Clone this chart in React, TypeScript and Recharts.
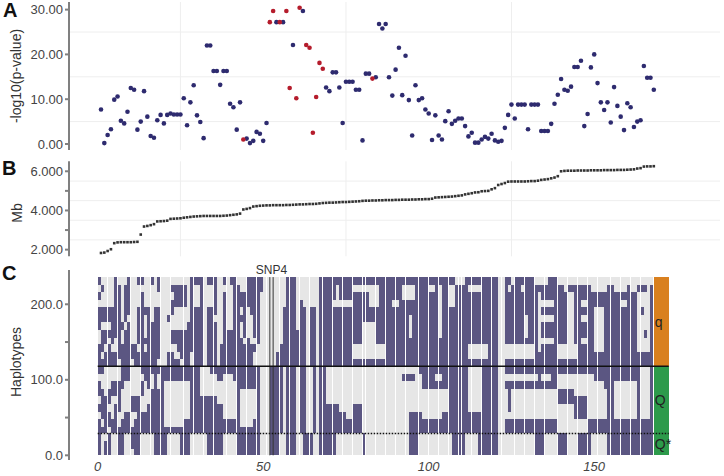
import React from 'react';
import {
  ScatterChart, Scatter, BarChart, Bar, Cell, XAxis, YAxis,
  ReferenceLine, ReferenceArea, Label,
} from 'recharts';

// -log10(p-value) per SNP, SNP index 1..168
const logP = [
  7.7, 0.2, 2.0, 3.3, 9.9, 10.6, 5.2, 4.6, 7.2, 12.5,
  12.1, 3.2, 5.0, 11.8, 6.1, 1.8, 1.4, 5.3, 6.5, 4.6,
  6.5, 6.8, 6.6, 6.6, 6.6, 10.2, 4.2, 9.3, 13.1, 6.4,
  4.9, 1.3, 22.0, 22.0, 16.3, 16.3, 13.2, 16.3, 16.3, 9.0,
  8.2, 3.2, 9.3, 1.0, 1.2, 0.2, 0.7, 2.7, 2.3, 0.7,
  4.7, 27.2, 29.7, 27.2, 27.2, 27.2, 29.7, 12.5, 22.1, 10.2,
  30.4, 29.7, 22.1, 21.5, 2.5, 10.5, 18.1, 16.8, 12.6, 11.8,
  16.0, 16.0, 12.6, 4.7, 13.9, 13.9, 13.9, 12.1, 12.1, 0.8,
  15.7, 15.7, 14.6, 14.9, 26.8, 25.8, 26.8, 14.9, 10.8, 16.6,
  21.5, 10.9, 19.7, 9.8, 1.9, 13.1, 9.8, 10.2, 7.7, 6.8,
  0.9, 6.4, 1.9, 1.0, 5.1, 7.3, 4.5, 5.2, 5.7, 5.7,
  4.0, 1.7, 2.5, 0.3, 0.3, 1.0, 1.6, 1.2, 2.3, 0.8,
  0.5, 0.7, 3.6, 6.5, 8.8, 5.7, 8.8, 8.8, 8.8, 3.3,
  8.8, 8.8, 8.8, 2.9, 2.9, 2.9, 4.5, 9.0, 11.0, 14.5,
  12.1, 11.9, 12.8, 17.2, 17.2, 18.6, 4.0, 6.7, 17.1, 20.0,
  13.6, 9.3, 7.6, 9.3, 4.8, 12.7, 8.5, 6.1, 3.1, 9.1,
  8.2, 3.8, 5.0, 5.3, 17.4, 14.8, 14.8, 12.1,
];

// SNPs drawn in red
const redSnps = [44, 52, 53, 55, 57, 58, 60, 61, 63, 64, 65, 66, 67, 68, 83];

// position of each SNP (Mb)
const mb = [
  1.83, 1.85, 1.93, 2.02, 2.33, 2.37, 2.38, 2.38, 2.38, 2.38,
  2.39, 2.40, 2.77, 3.18, 3.21, 3.25, 3.30, 3.44, 3.45, 3.46,
  3.48, 3.57, 3.58, 3.59, 3.60, 3.63, 3.65, 3.67, 3.69, 3.70,
  3.71, 3.72, 3.72, 3.72, 3.72, 3.72, 3.72, 3.73, 3.74, 3.76,
  3.78, 3.80, 3.84, 4.05, 4.08, 4.12, 4.20, 4.22, 4.24, 4.25,
  4.26, 4.26, 4.27, 4.27, 4.27, 4.27, 4.28, 4.28, 4.29, 4.30,
  4.31, 4.31, 4.32, 4.33, 4.33, 4.34, 4.36, 4.38, 4.39, 4.40,
  4.40, 4.41, 4.42, 4.43, 4.43, 4.44, 4.45, 4.46, 4.47, 4.49,
  4.50, 4.50, 4.51, 4.51, 4.52, 4.52, 4.53, 4.53, 4.53, 4.54,
  4.54, 4.55, 4.55, 4.55, 4.56, 4.56, 4.57, 4.57, 4.58, 4.58,
  4.60, 4.66, 4.67, 4.68, 4.69, 4.70, 4.71, 4.73, 4.75, 4.77,
  4.82, 4.85, 4.88, 4.92, 4.93, 4.98, 4.99, 5.00, 5.08, 5.14,
  5.30, 5.35, 5.40, 5.47, 5.48, 5.48, 5.48, 5.48, 5.48, 5.49,
  5.50, 5.50, 5.52, 5.56, 5.58, 5.60, 5.64, 5.68, 5.75, 6.00,
  6.02, 6.03, 6.03, 6.03, 6.04, 6.04, 6.04, 6.04, 6.05, 6.05,
  6.05, 6.05, 6.06, 6.06, 6.06, 6.06, 6.07, 6.07, 6.07, 6.08,
  6.09, 6.10, 6.14, 6.16, 6.24, 6.25, 6.25, 6.26,
];

// haplotype bands, top to bottom: 12 for q, 9 for Q, 3 for Q*
const bandHaps = [10, 10, 10, 10, 10, 10, 10, 10, 9, 10, 9, 10, 10, 10, 10, 10, 10, 10, 10, 10, 9, 10, 10, 9];

// allele per SNP column, bands top -> bottom ("1" = dark allele)
const hapCols = [
  '101011100111 101101011 111', '010011011101 100111101 000', '000011011011 000011111 011', '000011010111 000110110 111',
  '000011111011 001100011 000', '111111110011 001101111 000', '011111111110 001111001 111', '000000100111 111000011 111',
  '011111011111 110000111 000', '111110111111 110000111 000', '000000000110 000011001 110', '000000000111 000011011 111',
  '100011111011 000011111 111', '101111111111 101100111 000', '000010001011 110000111 000', '000011111111 111001111 000',
  '100000111111 100111111 000', '000011111111 111111111 111', '110011111110 100111111 111', '000000000000 111111111 111',
  '000000000000 110000001 111', '000001000011 110000001 000', '010110011011 110000001 000', '011100011001 110000001 000',
  '011100011101 110000001 000', '011100011110 110000001 111', '011100011111 110000011 111', '000000111111 110000011 111',
  '111111111100 111111111 000', '100011111111 111111111 000', '100011111111 111111111 000', '111111111111 000011111 000',
  '000000000000 000011111 000', '100011111111 000011111 111', '100011111111 100011111 111', '111110111111 100011111 111',
  '000000000000 110001111 111', '000000000111 110001111 111', '101111111111 100000011 000', '000000011111 100000011 000',
  '100000011111 100000011 000', '111111111111 110000011 000', '011111111111 111111111 111', '001101001111 111000001 111',
  '001111110111 111000001 111', '111100001111 111000001 111', '111110000111 111000001 111', '111111110100 111000011 111',
  '111111111000 111111111 111', '110000000000 000000000 000', '000000000000 000000000 000', '000000000000 000000000 000',
  '000000000000 111111111 111', '000000000000 111111111 111', '000000000011 111111111 111', '000000000111 111111111 000',
  '000011111111 000000000 000', '111111111111 111111111 111', '111111111111 111111111 111', '111111111111 111111111 111',
  '000000011111 000000000 000', '000111111111 111111111 000', '000011111111 111111111 111', '000000000000 000000000 111',
  '000011111111 000000000 111', '000011111111 111111111 000', '000000000000 000000000 000', '111111111111 111111111 111',
  '111111111111 111111111 111', '111111111111 000001111 111', '111111111111 000001111 111', '111011111111 000001111 111',
  '100011111111 000001111 000', '111011111111 000000111 000', '111011111111 000000111 000', '111011111111 000000011 000',
  '111011111111 000000011 000', '101111111001 000001111 000', '101111111001 000001111 000', '101111111001 000001111 000',
  '101111000001 000000000 111', '101111000001 000000000 000', '100011000001 000000000 000', '100011000001 000000000 000',
  '100011111001 000000000 000', '111111111001 000000000 000', '111111111001 000000000 000', '111111111111 000000000 000',
  '111111111111 000000000 000', '111011111111 000000000 000', '111011111111 000000000 000', '111111111111 000000000 000',
  '100111111111 010000000 000', '100111111111 010000000 000', '100110001111 010000111 111', '100111111111 010000111 111',
  '111111111111 000000111 111', '111111111111 100000111 000', '111111111111 111000011 000', '111111111111 111000011 000',
  '101111111111 111000011 000', '101111111111 111000011 000', '111111111111 101000011 000', '100000001111 101000011 000',
  '111111111111 111000111 000', '111111111111 111000111 000', '100011111111 111111111 000', '100011111111 111111111 111',
  '011111111111 111111111 111', '011111111111 111111111 111', '011111111111 111111111 111', '111111111111 111111111 000',
  '101111111001 000000111 000', '101111111001 000000111 000', '101111111001 000000111 000', '101111111001 000000111 111',
  '111111111001 111111111 111', '111111111001 111111111 111', '111111111111 111111111 111', '111111111111 111111111 111',
  '111111111111 111111111 111', '000000000000 000000000 000', '000000000000 000000000 000', '111111111001 101000011 000',
  '101111111001 101111011 000', '011111111001 101000011 000', '111111111001 101000011 000', '111111111001 101000011 000',
  '101111111001 101000011 000', '111110001001 101000011 000', '111111111001 101000011 000', '111111111001 101000011 000',
  '011111111111 101000011 111', '010000000011 111000011 111', '011010110111 101000011 111', '011010110111 101000011 000',
  '111010110111 101000011 000', '111010110111 111000011 000', '111111111111 111000011 000', '011111111001 100110000 111',
  '011111111001 100110000 111', '001111111001 100110000 111', '010000000001 100110000 000', '010000000001 100110000 000',
  '011111111001 100011100 000', '011111111111 100011100 111', '011010110111 100011100 111', '011010110111 100011100 111',
  '011111111111 100000011 111', '001111111111 100000011 000', '001100000011 110000011 000', '001100000011 110000011 000',
  '001100000011 110000011 000', '001111111111 111000011 000', '011111111111 111111111 111', '011111111111 111111111 111',
  '001111111111 110000011 111', '001111111111 110000011 111', '001011111111 110000011 111', '001011111111 110000011 111',
  '011111111111 110000011 111', '001111111111 110000011 111', '001111111111 110000011 111', '010000000011 111111111 111',
  '010010000011 000000011 111', '010000010011 000000011 111', '000000000011 000000011 111', '011111111111 111111111 111',
];

const groups = [
  { name: 'q', from: 118, to: 236, color: '#d9801f' },
  { name: 'Q', from: 29, to: 118, color: '#2d9a4b' },
  { name: 'Q*', from: 0, to: 29, color: '#2d9a4b' },
];
const snp4 = 52;
const xTicks = [0, 50, 100, 150];

const DARK = '#5b5682';
const LIGHT = '#e6e6e6';
const BLUE = '#2e2b6f';
const RED = '#b51c2c';
const AXIS = '#808080';
const TICK = { fontSize: 13, fill: '#444' };

const X_DOMAIN: [number, number] = [-8.67, 188];
const PLOT_W = 651;
const PX = PLOT_W / (X_DOMAIN[1] - X_DOMAIN[0]);
const nSnp = hapCols.length;

const pData = logP.map((v, i) => ({ idx: i + 1, p: v }));
const bluePts = pData.filter(d => !redSnps.includes(d.idx));
const redPts = pData.filter(d => redSnps.includes(d.idx));
const mbData = mb.map((v, i) => ({ idx: i + 1, mb: v }));

const bits = hapCols.map(c => c.replace(/\s/g, ''));
const bandKeys = bandHaps.map((_, k) => `b${k}`);
const heatData = bits.map((_, c) => {
  const row: any = { snp: c };
  bandHaps.forEach((h, k) => { row[`b${k}`] = h; });
  return row;
});
const totalHaps = bandHaps.reduce((a, b) => a + b, 0);

const Dot = (color: string) => (props: any) => (
  <circle cx={props.cx} cy={props.cy} r={2.3} fill={color} />
);
const Square = (props: any) => (
  <rect x={props.cx - 1.3} y={props.cy - 1.3} width={2.6} height={2.6} fill="#333" />
);

const grid = (ys: number[]) => [
  ...[25, 75, 125].map(x => <ReferenceLine key={`vx${x}`} x={x} stroke="#eeeeee" />),
  ...ys.map(y => <ReferenceLine key={`hy${y}`} y={y} stroke="#eeeeee" />),
];

export default function App() {
  return (
    <div style={{ position: 'absolute', left: 0, top: 0, width: 724, height: 476, background: '#fff', fontFamily: '"Liberation Sans", Arial, sans-serif' }}>
      <style>{'.heat .recharts-rectangle{shape-rendering:crispEdges}'}</style>

      <div style={{ position: 'absolute', left: 0, top: 0 }}>
        <ScatterChart width={724} height={160} margin={{ top: 2, right: 4, bottom: 10, left: 0 }}>
          <XAxis type="number" dataKey="idx" domain={X_DOMAIN} allowDataOverflow hide />
          <YAxis type="number" dataKey="p" width={69} domain={[-1.34, 31.7]} allowDataOverflow
            ticks={[0, 10, 20, 30]} tickFormatter={(v: number) => v.toFixed(2)}
            stroke={AXIS} strokeWidth={2} tickSize={4} tickMargin={2} tick={TICK} />
          {grid([5, 15, 25])}
          <Scatter data={bluePts} shape={Dot(BLUE)} isAnimationActive={false} />
          <Scatter data={redPts} shape={Dot(RED)} isAnimationActive={false} />
        </ScatterChart>
      </div>

      <div style={{ position: 'absolute', left: 0, top: 155 }}>
        <ScatterChart width={724} height={105} margin={{ top: 6.3, right: 4, bottom: 3.7, left: 0 }}>
          <XAxis type="number" dataKey="idx" domain={X_DOMAIN} allowDataOverflow hide />
          <YAxis type="number" dataKey="mb" width={69} domain={[1.66, 6.51]} allowDataOverflow
            ticks={[2, 3, 4, 5, 6]} tickFormatter={(v: number) => (v % 2 === 0 ? v.toFixed(3) : '')}
            stroke={AXIS} strokeWidth={2} tickSize={4} tickMargin={2} tick={TICK} />
          {grid([2.5, 3.5, 4.5, 5.5])}
          <Scatter data={mbData} shape={Square} isAnimationActive={false} />
        </ScatterChart>
      </div>

      <div className="heat" style={{ position: 'absolute', left: 0, top: 262 }}>
        <BarChart width={724} height={214} data={heatData} barCategoryGap={0} barGap={0}
          margin={{ top: 8, right: 4, bottom: 0, left: 0 }}>
          <XAxis xAxisId="num" type="number" dataKey="snp" domain={X_DOMAIN} allowDataOverflow
            ticks={xTicks} axisLine={false} tickLine={false} tickSize={0} tickMargin={2} height={16}
            tick={{ ...TICK, fontStyle: 'italic' }} />
          <XAxis xAxisId="cat" type="category" dataKey="snp" hide orientation="top"
            padding={{ left: (0 - X_DOMAIN[0]) * PX, right: (X_DOMAIN[1] - nSnp) * PX }} />
          <YAxis type="number" width={69} domain={[-6.2, 245.4]} allowDataOverflow
            ticks={[0, 50, 100, 150, 200]} tickFormatter={(v: number) => (v % 100 === 0 ? v.toFixed(1) : '')}
            stroke={AXIS} strokeWidth={2} tickSize={4} tickMargin={2} tick={TICK} />
          {[...bandKeys].reverse().map(key => {
            const k = bandKeys.indexOf(key);
            return (
              <Bar key={key} dataKey={key} stackId="h" xAxisId="cat" barSize={PX} isAnimationActive={false}>
                {bits.map((b, c) => <Cell key={c} fill={b[k] === '1' ? DARK : LIGHT} />)}
              </Bar>
            );
          })}
          {groups.map(g => (
            <ReferenceArea key={g.name} xAxisId="num" x1={nSnp} x2={nSnp + 4.5} y1={g.from} y2={g.to}
              fill={g.color} fillOpacity={1} stroke="none">
              <Label value={g.name} position="insideLeft" offset={1} fontSize={14} fill="#222" />
            </ReferenceArea>
          ))}
          <ReferenceArea xAxisId="num" x1={snp4} x2={snp4 + 1} y1={0} y2={totalHaps} fillOpacity={0} stroke="none">
            <Label value="SNP4" position="top" offset={3} fontSize={12} fill="#333" />
          </ReferenceArea>
          <ReferenceLine xAxisId="num" segment={[{ x: snp4, y: 0 }, { x: snp4, y: totalHaps }]} stroke="#333" strokeWidth={1} />
          <ReferenceLine xAxisId="num" segment={[{ x: snp4 + 1, y: 0 }, { x: snp4 + 1, y: totalHaps }]} stroke="#333" strokeWidth={1} />
          <ReferenceLine xAxisId="num" segment={[{ x: 0, y: groups[0].from }, { x: nSnp + 4.5, y: groups[0].from }]} stroke="#111" strokeWidth={1.5} />
          <ReferenceLine xAxisId="num" segment={[{ x: 0, y: groups[1].from }, { x: nSnp + 4.5, y: groups[1].from }]} stroke="#111" strokeWidth={1.5} strokeDasharray="1.5 1.5" />
        </BarChart>
      </div>

      <svg width={724} height={476} style={{ position: 'absolute', left: 0, top: 0, pointerEvents: 'none' }}>
        <text x={3} y={17} fontSize={20} fontWeight="bold" fill="#111">A</text>
        <text x={2} y={175} fontSize={20} fontWeight="bold" fill="#111">B</text>
        <text x={2} y={280} fontSize={20} fontWeight="bold" fill="#111">C</text>
        <text transform="translate(16,76) rotate(-90)" textAnchor="middle" dominantBaseline="central" fontSize={14} fill="#333">-log10(p-value)</text>
        <text transform="translate(17,213) rotate(-90)" textAnchor="middle" dominantBaseline="central" fontSize={14} fill="#333">Mb</text>
        <text transform="translate(16,362) rotate(-90)" textAnchor="middle" dominantBaseline="central" fontSize={14} fill="#333">Haplotypes</text>
      </svg>
    </div>
  );
}
